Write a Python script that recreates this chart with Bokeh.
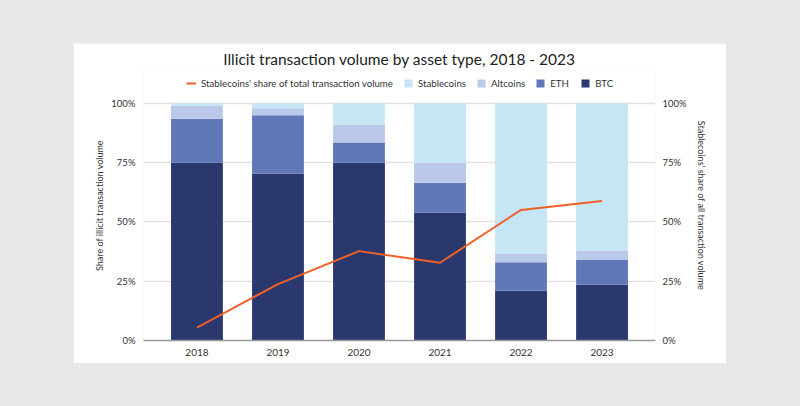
from bokeh.plotting import figure
from bokeh.layouts import column, row
from bokeh.models import (FactorRange, Range1d, LinearAxis, NumeralTickFormatter,
                          Legend, LegendItem, FixedTicker, Spacer, Title)
from bokeh.embed import file_html
from bokeh.resources import INLINE

years = ["2018", "2019", "2020", "2021", "2022", "2023"]
btc = [0.75, 0.705, 0.75, 0.54, 0.21, 0.235]
eth = [0.185, 0.245, 0.085, 0.125, 0.12, 0.105]
altcoins = [0.055, 0.03, 0.075, 0.085, 0.035, 0.04]
stablecoins = [0.01, 0.02, 0.09, 0.25, 0.635, 0.62]
stable_share = [0.054, 0.238, 0.377, 0.328, 0.551, 0.588]
tick_values = [0, 0.25, 0.5, 0.75, 1.0]
left_label = "Share of illicit transaction volume"
right_label = "Stablecoins' share of all transaction volume"
title_text = "Illicit transaction volume by asset type, 2018 - 2023"

FONT = "Lato"
GRAY = "#e8e8e8"
TXT = "#333333"
colors = ["#2a386e", "#6078b8", "#bac8ea", "#c6e5f5"]
series = ["BTC", "ETH", "Altcoins", "Stablecoins"]
data = dict(years=years, BTC=btc, ETH=eth, Altcoins=altcoins, Stablecoins=stablecoins,
            share=stable_share)

TOP = 1.139  # headroom inside the frame for the legend
p = figure(width=653, height=320, output_backend="svg", toolbar_location=None,
           x_range=FactorRange(factors=years, range_padding=0.0533),
           y_range=Range1d(0, TOP),
           min_border_left=70, min_border_right=71, min_border_top=27, min_border_bottom=23)
p.extra_y_ranges = {"right": Range1d(0, TOP)}
p.border_fill_color = "white"
p.background_fill_color = "white"
p.outline_line_color = None

renderers = p.vbar_stack(series, x="years", width=0.64, color=colors, source=data,
                         line_color=None)
line = p.line(x="years", y="share", source=data, color="#ef6128", line_width=2,
              y_range_name="right")

p.yaxis.ticker = FixedTicker(ticks=tick_values)
p.yaxis.formatter = NumeralTickFormatter(format="0%")
right = LinearAxis(y_range_name="right", ticker=FixedTicker(ticks=tick_values),
                   formatter=NumeralTickFormatter(format="0%"))
p.add_layout(right, "right")

for ax, so in [(p.yaxis[0], 2), (right, 1)]:
    ax.axis_line_color = None
    ax.major_tick_line_color = None
    ax.minor_tick_line_color = None
    ax.major_label_text_font = FONT
    ax.major_label_text_font_size = "9.5px"
    ax.major_label_text_color = TXT
    ax.major_label_standoff = so

p.xaxis.axis_line_color = "#999999"
p.xaxis.axis_line_width = 1.5
p.xaxis.major_tick_line_color = None
p.xaxis.minor_tick_line_color = None
p.xaxis.major_label_text_font = FONT
p.xaxis.major_label_text_font_size = "10px"
p.xaxis.major_label_text_color = TXT
p.xaxis.major_label_standoff = 2

p.xgrid.grid_line_color = None
p.ygrid.grid_line_color = "#e2e2e2"
p.ygrid.grid_line_width = 1.5

p.title.text = title_text
p.title.text_font = FONT
p.title.text_font_size = "15.5px"
p.title.text_font_style = "normal"
p.title.text_color = "#222222"
p.title.align = "center"
p.title.standoff = 6

# axis titles, shifted down so they centre on the 0-100% span
for text, side, off, so in [(left_label, "left", -21, 8), (right_label, "right", 21, 12)]:
    t = Title(text=text, align="center", offset=off, standoff=so,
              text_font=FONT, text_font_size="9px", text_font_style="normal",
              text_color=TXT)
    p.add_layout(t, side)

items = [LegendItem(label="Stablecoins' share of total transaction volume", renderers=[line])]
for name, r in zip(reversed(series), reversed(renderers)):
    items.append(LegendItem(label=name, renderers=[r]))
legend = Legend(items=items, orientation="horizontal", location=(43, 251),
                border_line_color=None, background_fill_alpha=0,
                label_text_font=FONT, label_text_font_size="9.7px", label_text_color=TXT,
                glyph_width=10, glyph_height=10, label_standoff=5, spacing=10,
                padding=2, margin=0)
p.add_layout(legend, "center")

inner = column(Spacer(width=653, height=43), p, Spacer(width=653, height=43), spacing=0)
layout = row(Spacer(width=73, height=406), inner, Spacer(width=74, height=406),
             spacing=0, styles={"background-color": GRAY})
open("out.html", "w").write(file_html(layout, INLINE))
